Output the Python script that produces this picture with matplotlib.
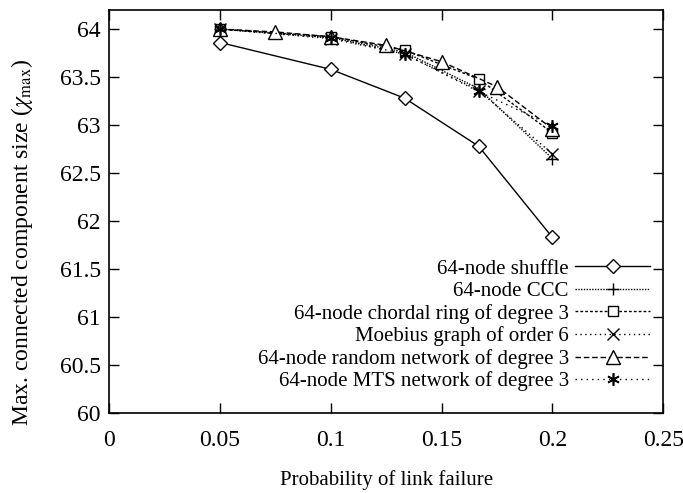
import numpy as np
import matplotlib
matplotlib.use("Agg")
import matplotlib.pyplot as plt

plt.rcParams['font.family'] = ['Liberation Serif', 'DejaVu Serif']
plt.rcParams['mathtext.fontset'] = 'stix'

# data
x5 = [0.05, 0.1, 0.1333, 0.1667, 0.2]
x7 = [0.05, 0.075, 0.1, 0.125, 0.15, 0.175, 0.2]

shuffle = [63.86, 63.58, 63.28, 62.78, 61.83]
ccc = [64.0, 63.91, 63.76, 63.38, 62.65]
chordal = [64.0, 63.92, 63.78, 63.48, 62.92]
moebius = [64.0, 63.90, 63.74, 63.36, 62.70]
random_net = [64.0, 63.97, 63.92, 63.83, 63.66, 63.40, 62.96]
mts = [64.0, 63.91, 63.74, 63.35, 62.99]

labels = ['64-node shuffle', '64-node CCC', '64-node chordal ring of degree 3',
          'Moebius graph of order 6', '64-node random network of degree 3',
          '64-node MTS network of degree 3']

fig = plt.figure(figsize=(6.83, 4.93), dpi=100)
ax = fig.add_axes([0.160, 0.162, 0.811, 0.818])

ms = 8
ax.plot(x5, shuffle, color='black', lw=1, ls='-', marker='D', ms=7, mfc='white', label=labels[0])
ax.plot(x5, ccc, color='black', lw=1, ls=(0, (1, 1)), marker='+', ms=ms + 1, mew=1, label=labels[1])
ax.plot(x5, chordal, color='black', lw=1, ls=(0, (2, 1.5)), marker='s', ms=ms - 1, mfc='white', label=labels[2])
ax.plot(x5, moebius, color='black', lw=1, ls=(0, (1, 2.5)), marker='x', ms=ms, mew=1, label=labels[3])
ax.plot(x7, random_net, color='black', lw=1, ls=(0, (4, 2)), marker='^', ms=ms + 2, mfc='white', label=labels[4])
ax.plot(x5, mts, color='black', lw=1, ls=(0, (1, 3)), marker=(6, 2, 0), ms=ms + 1, mew=1.2, label=labels[5])

ax.set_xlim(0, 0.25)
ax.set_ylim(60, 64.2)
ax.set_xticks([0, 0.05, 0.1, 0.15, 0.2, 0.25])
ax.set_xticklabels(['0', '0.05', '0.1', '0.15', '0.2', '0.25'])
ax.set_yticks(np.arange(60, 64.01, 0.5))
ax.set_yticklabels(['60', '60.5', '61', '61.5', '62', '62.5', '63', '63.5', '64'])
ax.tick_params(direction='in', top=True, right=True, length=7, width=1, labelsize=17)
ax.tick_params(axis='x', pad=12)
ax.tick_params(axis='y', pad=6)
for s in ax.spines.values():
    s.set_linewidth(1.2)

ax.set_xlabel('Probability of link failure', fontsize=15, labelpad=14)
ax.set_ylabel(r'Max. connected component size ($\chi_{\max}$)', fontsize=17)
ax.yaxis.set_label_coords(-0.135, 0.424)

ax.legend(loc='lower right', bbox_to_anchor=(0.995, 0.028), frameon=False, markerfirst=False,
          fontsize=15, handlelength=3.6, handletextpad=0.3, labelspacing=0.13, borderpad=0)

plt.savefig('out.png', dpi=100)
